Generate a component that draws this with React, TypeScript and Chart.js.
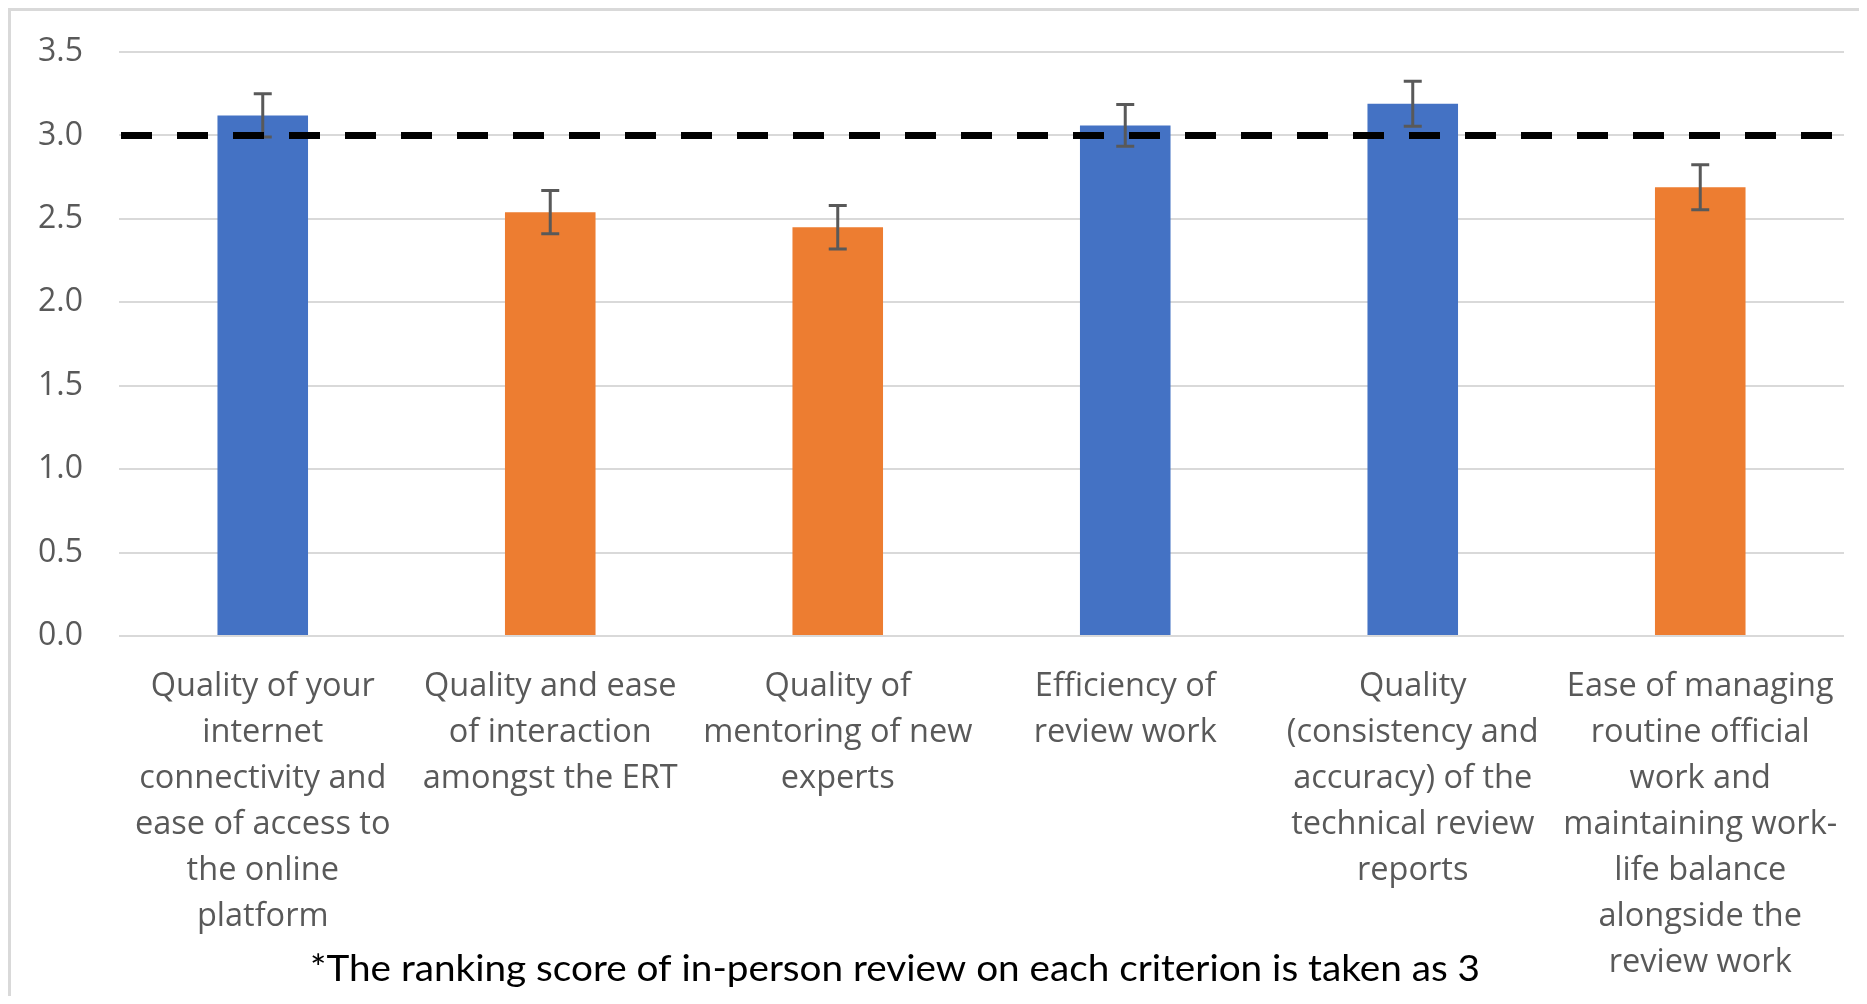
import React, { useEffect, useRef } from "react";
import { Chart, registerables } from "chart.js";

Chart.register(...registerables);

// ---------- data ----------
const categories: string[][] = [
  ["Quality of your", "internet", "connectivity and", "ease of access to", "the online", "platform"],
  ["Quality and ease", "of interaction", "amongst the ERT"],
  ["Quality of", "mentoring of new", "experts"],
  ["Efficiency of", "review work"],
  ["Quality", "(consistency and", "accuracy) of the", "technical review", "reports"],
  ["Ease of managing", "routine official", "work and", "maintaining work-", "life balance", "alongside the", "review work"],
];
const scores: number[] = [3.12, 2.54, 2.45, 3.06, 3.19, 2.69];
const errorMargins: number[] = [0.13, 0.13, 0.13, 0.125, 0.135, 0.135];
const inPersonScore = 3;
const yMin = 0;
const yMax = 3.5;
const yStep = 0.5;
const footnote = "*The ranking score of in-person review on each criterion is taken as 3";

// ---------- styles ----------
const aboveColor = "#4472C4";
const belowColor = "#ED7D31";
const gridColor = "#d9d9d9";
const textColor = "#595959";
const labelFont = "'Open Sans', sans-serif";

const errorBarPlugin = {
  id: "errorBars",
  afterDatasetsDraw(chart: any) {
    const ctx = chart.ctx;
    const yScale = chart.scales.y;
    const meta = chart.getDatasetMeta(0);
    ctx.save();
    ctx.strokeStyle = "#595959";
    ctx.lineWidth = 3;
    meta.data.forEach((bar: any, i: number) => {
      const v = scores[i];
      const e = errorMargins[i];
      const x = bar.x;
      const yTop = yScale.getPixelForValue(v + e);
      const yBot = yScale.getPixelForValue(v - e);
      const cap = 9;
      ctx.beginPath();
      ctx.moveTo(x, yTop);
      ctx.lineTo(x, yBot);
      ctx.moveTo(x - cap, yTop);
      ctx.lineTo(x + cap, yTop);
      ctx.moveTo(x - cap, yBot);
      ctx.lineTo(x + cap, yBot);
      ctx.stroke();
    });
    // reference dashed line (in-person score)
    const area = chart.chartArea;
    const yRef = yScale.getPixelForValue(inPersonScore);
    ctx.strokeStyle = "#000000";
    ctx.lineWidth = 7;
    ctx.setLineDash([31, 25]);
    ctx.beginPath();
    ctx.moveTo(area.left + 2, yRef);
    ctx.lineTo(area.right, yRef);
    ctx.stroke();
    ctx.restore();
  },
};

const footnotePlugin = {
  id: "footnote",
  afterDraw(chart: any) {
    const ctx = chart.ctx;
    ctx.save();
    ctx.font = "36px Lato, sans-serif";
    ctx.fillStyle = "#000000";
    ctx.textBaseline = "alphabetic";
    ctx.textAlign = "left";
    const w = ctx.measureText(footnote).width;
    const target = 1170;
    const cx = 884;
    const s = target / w;
    ctx.translate(cx - target / 2, 970);
    ctx.scale(s, 1);
    ctx.fillText(footnote, 0, 0);
    ctx.restore();
  },
};

export default function App() {
  const canvasRef = useRef<HTMLCanvasElement | null>(null);

  useEffect(() => {
    if (!canvasRef.current) return;
    const chart = new Chart(canvasRef.current, {
      type: "bar",
      data: {
        labels: categories,
        datasets: [
          {
            data: scores,
            backgroundColor: scores.map((s) => (s > inPersonScore ? aboveColor : belowColor)),
            categoryPercentage: 1,
            barPercentage: 0.315,
          },
        ],
      },
      options: {
        responsive: false,
        animation: false,
        devicePixelRatio: 1,
        layout: { padding: { top: 41, right: 22, left: 0, bottom: 0 } },
        plugins: {
          legend: { display: false },
          tooltip: { enabled: false },
          title: { display: false },
        },
        scales: {
          x: {
            grid: { display: false, drawTicks: false },
            border: { display: false },
            ticks: {
              autoSkip: false,
              maxRotation: 0,
              minRotation: 0,
              padding: 28,
              color: textColor,
              font: { family: labelFont, size: 32.5, lineHeight: "46px" },
            },
            afterFit(scale: any) {
              scale.height = 360;
            },
          },
          y: {
            min: yMin,
            max: yMax,
            grid: { color: gridColor, lineWidth: 2, drawTicks: false },
            border: { display: false },
            ticks: {
              stepSize: yStep,
              padding: 36,
              color: textColor,
              font: { family: labelFont, size: 32 },
              callback: (v: any) => Number(v).toFixed(1),
            },
            afterFit(scale: any) {
              scale.width = 108;
              scale.paddingTop = 0;
              scale.paddingBottom = 0;
            },
          },
        },
      },
      plugins: [errorBarPlugin, footnotePlugin],
    });
    return () => chart.destroy();
  }, []);

  return (
    <div
      style={{
        width: 1859,
        height: 988,
        boxSizing: "border-box",
        borderLeft: "3px solid #d9d9d9",
        borderTop: "3px solid #d9d9d9",
        background: "#ffffff",
        overflow: "hidden",
      }}
    >
      <canvas ref={canvasRef} width={1856} height={985} style={{ display: "block" }} />
    </div>
  );
}
